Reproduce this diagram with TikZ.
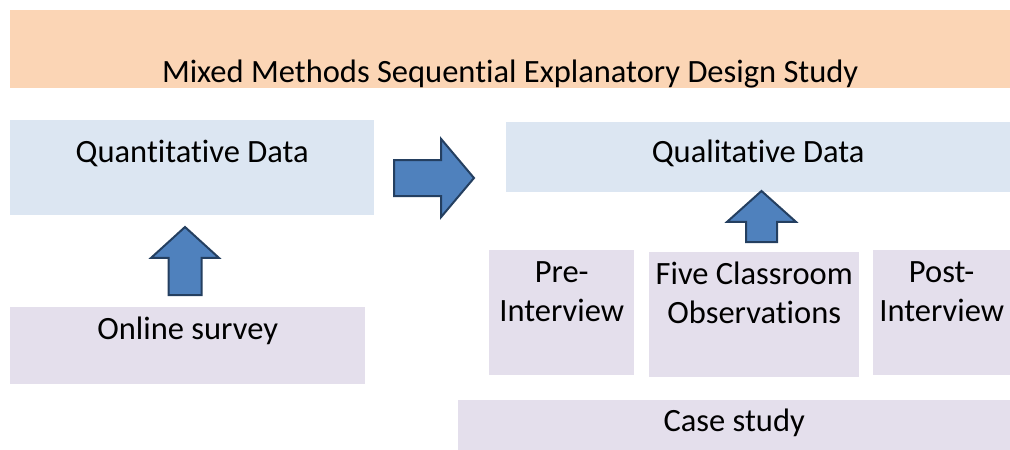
\documentclass[tikz,border=0pt]{standalone}
\usepackage{fontspec}
\setmainfont{Carlito}[RawFeature=-liga]
\usepackage{tikz}
\usetikzlibrary{calc}
\usetikzlibrary{shapes.arrows}
\usetikzlibrary{positioning}

\definecolor{barorange}{HTML}{FBD5B5}
\definecolor{boxblue}{HTML}{DCE6F2}
\definecolor{boxlilac}{HTML}{E4DFEC}
\definecolor{arrowfill}{HTML}{4F81BD}
\definecolor{arrowline}{HTML}{243F60}

\tikzset{
  box/.style={rectangle, draw=none, anchor=north west, inner sep=0pt},
  lbl/.style={inner sep=0pt, anchor=base, align=center, font=\fontsize{32.5}{39}\selectfont},
  blockarrow/.style={single arrow, draw=arrowline, fill=arrowfill, line width=2pt, single arrow head indent=0pt, anchor=tail}
}

\begin{document}
\begin{tikzpicture}[x=1pt, y=-1pt]
\useasboundingbox (0,0) rectangle (1010,450);
% boxes
\node [box, fill=barorange, minimum width=1000pt, minimum height=78pt] (bar) at (10,10) {};
\node [box, fill=boxblue, minimum width=364pt, minimum height=95pt] (quant) at (10,120) {};
\node [box, fill=boxblue, minimum width=504pt, minimum height=70pt] (qual) at (506,122) {};
\node [box, fill=boxlilac, minimum width=355pt, minimum height=77pt] (survey) at (10,307) {};
\node [box, fill=boxlilac, minimum width=145pt, minimum height=125pt] (pre) at (489,250) {};
\node [box, fill=boxlilac, minimum width=210pt, minimum height=125pt] (obs) at (649,252) {};
\node [box, fill=boxlilac, minimum width=137pt, minimum height=125pt] (post) at (873,250) {};
\node [box, fill=boxlilac, minimum width=552pt, minimum height=50pt] (case) at (458,400) {};
% texts (base anchor sits on the last line)
\node [lbl] (bartxt) at (bar.north |- 0,82) {Mixed Methods Sequential Explanatory Design Study};
\node [lbl] (quanttxt) at (quant.north |- 0,162) {Quantitative Data};
\node [lbl] (qualtxt) at (qual.north |- 0,162) {Qualitative Data};
\node [lbl] (surveytxt) at (survey.north |- 0,339) {Online survey};
\node [lbl] (pretxt) at (pre.north |- 0,321) {Pre-\\Interview};
\node [lbl] (obstxt) at (obs.north |- 0,323) {Five Classroom\\Observations};
\node [lbl] (posttxt) at (post.north |- 0,321) {Post-\\Interview};
\node [lbl] (casetxt) at (case.north |- 0,431) {Case study};
% block arrows
\node [blockarrow, inner sep=17pt, minimum height=80pt, single arrow head extend=21pt,
  single arrow tip angle=99.8] (toqual) at (393,178) {};
\node [blockarrow, inner sep=15.5pt, minimum height=68pt, single arrow head extend=17.5pt,
  single arrow tip angle=95.4, shape border rotate=90] (fromsurvey) at (185,296) {};
\node [blockarrow, inner sep=14.5pt, minimum height=51pt, single arrow head extend=19pt,
  single arrow tip angle=96.3, shape border rotate=90] (fromcase) at (761.5,243) {};
\end{tikzpicture}
\end{document}
